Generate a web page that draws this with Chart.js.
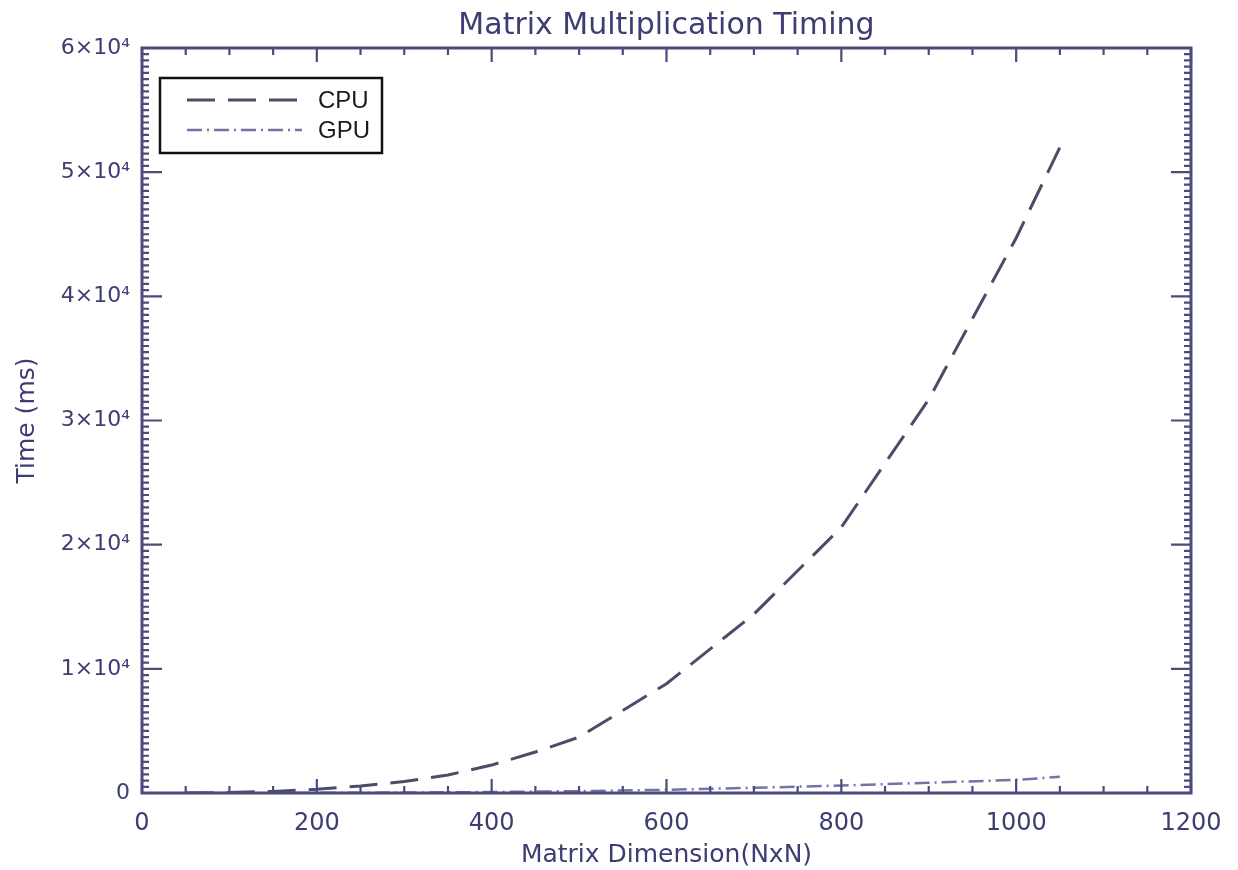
<!DOCTYPE html>
<html>
<head>
<meta charset="utf-8">
<title>Matrix Multiplication Timing</title>
<script src="https://cdn.jsdelivr.net/npm/chart.js@4.4.1/dist/chart.umd.min.js"></script>
<style>
    html, body { margin: 0; padding: 0; background: #ffffff; }
    #wrap { width: 1238px; height: 870px; }
</style>
</head>
<body>
<div id="wrap"><canvas id="chart1" width="1238" height="870"></canvas></div>
<script>
// matrix sizes (N for an NxN matrix) and measured times in ms
const dims = [50, 100, 150, 200, 250, 300, 350, 400, 450, 500, 600, 700, 800, 900, 1000, 1050];
const cpuTimes = [5, 40, 130, 300, 560, 920, 1450, 2250, 3300, 4500, 8800, 14400, 21400, 31700, 44700, 52000];
const gpuTimes = [0, 2, 5, 12, 22, 35, 55, 80, 115, 150, 260, 420, 600, 830, 1060, 1300];
const xTicks = [0, 200, 400, 600, 800, 1000, 1200];
const yTicks = [0, 10000, 20000, 30000, 40000, 50000, 60000];

const ink = '#3d3d72';
const axisFont = 'DejaVu Sans';
const chartTitle = 'Matrix Multiplication Timing';

function toPoints(xs, ys) {
    return xs.map((x, i) => ({ x: x, y: ys[i] }));
}

function yLabel(v) {
    if (v === 0) return '0';
    return (v / 10000) + '\u00d710\u2074';
}

// title centred over the plot box, not over the whole canvas
const plotTitle = {
    id: 'plotTitle',
    afterDraw(chart) {
        const ctx = chart.ctx;
        const a = chart.chartArea;
        ctx.save();
        ctx.fillStyle = ink;
        ctx.font = '30px "' + axisFont + '"';
        ctx.textAlign = 'center';
        ctx.textBaseline = 'middle';
        ctx.fillText(chartTitle, (a.left + a.right) / 2, 26);
        ctx.restore();
    }
};

// box round the plot with IDL style inward ticks on all four sides
const frameTicks = {
    id: 'frameTicks',
    afterDraw(chart) {
        const ctx = chart.ctx;
        const a = chart.chartArea;
        const xs = chart.scales.x;
        const ys = chart.scales.y;
        ctx.save();
        ctx.strokeStyle = '#4b4b7d';
        ctx.lineWidth = 2.2;
        for (let v = 0; v <= 1200; v += 50) {
            const px = xs.getPixelForValue(v);
            const len = v % 200 === 0 ? 14 : 7;
            ctx.beginPath();
            ctx.moveTo(px, a.bottom);
            ctx.lineTo(px, a.bottom - len);
            ctx.moveTo(px, a.top);
            ctx.lineTo(px, a.top + len);
            ctx.stroke();
        }
        for (let v = 0; v <= 60000; v += 500) {
            const py = ys.getPixelForValue(v);
            const len = v % 10000 === 0 ? 20 : 7;
            ctx.beginPath();
            ctx.moveTo(a.left, py);
            ctx.lineTo(a.left + len, py);
            ctx.moveTo(a.right, py);
            ctx.lineTo(a.right - len, py);
            ctx.stroke();
        }
        ctx.lineWidth = 3;
        ctx.strokeRect(a.left, a.top, a.right - a.left, a.bottom - a.top);
        ctx.restore();
    }
};

// legend box in the top left corner, built from the datasets
const boxLegend = {
    id: 'boxLegend',
    afterDraw(chart) {
        const ctx = chart.ctx;
        const a = chart.chartArea;
        const left = a.left + 18, top = a.top + 30;
        ctx.save();
        ctx.strokeStyle = '#111111';
        ctx.lineWidth = 2.5;
        ctx.strokeRect(left, top, 222, 75);
        chart.data.datasets.forEach((ds, i) => {
            const y = top + 22 + i * 30;
            ctx.beginPath();
            ctx.strokeStyle = ds.borderColor;
            ctx.lineWidth = ds.borderWidth;
            ctx.setLineDash(ds.borderDash);
            ctx.moveTo(left + 27, y);
            ctx.lineTo(left + 142, y);
            ctx.stroke();
            ctx.setLineDash([]);
            ctx.fillStyle = '#1a1a1a';
            ctx.font = '24px "Liberation Sans"';
            ctx.textBaseline = 'middle';
            ctx.fillText(ds.label, left + 158, y + 1);
        });
        ctx.restore();
    }
};

const ctx1 = document.getElementById('chart1').getContext('2d');
new Chart(ctx1, {
    type: 'line',
    data: {
        datasets: [{
            label: 'CPU',
            data: toPoints(dims, cpuTimes),
            borderColor: '#4c4c68',
            borderWidth: 3,
            borderDash: [28, 13],
            pointRadius: 0,
            fill: false
        }, {
            label: 'GPU',
            data: toPoints(dims, gpuTimes),
            borderColor: '#7373a8',
            borderWidth: 2.5,
            borderDash: [15, 5, 2, 5],
            pointRadius: 0,
            fill: false
        }]
    },
    options: {
        responsive: false,
        animation: false,
        layout: {
            padding: { left: 0, right: 47, top: 48, bottom: 0 }
        },
        scales: {
            x: {
                type: 'linear',
                min: 0,
                max: 1200,
                afterBuildTicks: (s) => { s.ticks = xTicks.map(v => ({ value: v })); },
                afterFit: (s) => { s.height = 77; },
                grid: { display: false, drawTicks: false },
                border: { display: false },
                ticks: {
                    color: ink,
                    padding: 16,
                    maxRotation: 0,
                    font: { family: axisFont, size: 24 },
                    callback: (v) => String(v)
                },
                title: {
                    display: true,
                    text: 'Matrix Dimension(NxN)',
                    color: ink,
                    padding: { top: 2, bottom: 0 },
                    font: { family: axisFont, size: 25 }
                }
            },
            y: {
                type: 'linear',
                min: 0,
                max: 60000,
                afterBuildTicks: (s) => { s.ticks = yTicks.map(v => ({ value: v })); },
                afterFit: (s) => { s.width = 142; },
                grid: { display: false, drawTicks: false },
                border: { display: false },
                ticks: {
                    color: ink,
                    padding: 12,
                    font: { family: axisFont, size: 22 },
                    callback: (v) => yLabel(v)
                },
                title: {
                    display: true,
                    text: 'Time (ms)',
                    color: ink,
                    padding: { top: 12, bottom: 0 },
                    font: { family: axisFont, size: 25 }
                }
            }
        },
        plugins: {
            legend: { display: false },
            tooltip: { enabled: false },
            title: { display: false }
        }
    },
    plugins: [plotTitle, frameTicks, boxLegend]
});
</script>
</body>
</html>
